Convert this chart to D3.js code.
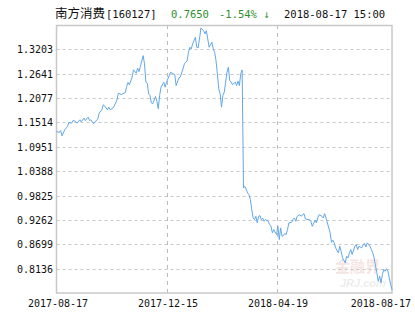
<!DOCTYPE html>
<html>
<head>
<meta charset="utf-8">
<script src="https://cdn.jsdelivr.net/npm/d3@7"></script>
<style>
  body { margin: 0; background: #fff; }
  svg text { font-family: "DejaVu Sans Mono", monospace; font-size: 10px; }
</style>
</head>
<body>
<div id="chart"></div>
<script>
// Trading-day index and unit NAV
const dayIdx = [0, 2, 3, 4, 6, 8, 9, 11, 12, 14, 15, 17, 18, 20, 21, 23, 24, 25, 27, 28,
  30, 31, 33, 34, 35, 37, 38, 39, 41, 42, 44, 45, 47, 48, 50, 51, 52, 53, 55, 56,
  58, 59, 60, 61, 63, 64, 65, 66, 67, 68, 69, 70, 72, 73, 74, 75, 76, 78, 79, 80,
  81, 83, 84, 86, 87, 89, 90, 92, 93, 95, 96, 97, 98, 99, 101, 102, 103, 104, 105, 107,
  108, 109, 110, 111, 113, 114, 115, 116, 117, 118, 119, 120, 121, 122, 123, 124, 125, 126, 127, 128,
  130, 131, 132, 133, 134, 135, 136, 137, 138, 139, 140, 141, 142, 143, 144, 145, 146, 147, 148, 149,
  150, 151, 152, 154, 155, 156, 157, 158, 160, 161, 162, 163, 164, 165, 166, 167, 168, 169, 171, 172,
  173, 174, 175, 177, 178, 179, 180, 181, 183, 184, 185, 186, 188, 189, 190, 191, 193, 194, 195, 196,
  197, 199, 200, 201, 202, 203, 205, 206, 207, 208, 210, 211, 212, 213, 214, 215, 217, 218, 219, 220,
  222, 223, 224, 225, 226, 228, 229, 230, 231, 232, 233, 234, 235, 236, 237, 238, 239, 240, 241, 242,
  243, 244];
const nav = [1.1305, 1.1282, 1.1329, 1.1206, 1.1345, 1.1421, 1.1513, 1.1499, 1.1559, 1.1536, 1.1499, 1.1575, 1.1529, 1.1615, 1.1559, 1.1638, 1.1559, 1.1575, 1.1483, 1.1529,
  1.1591, 1.1730, 1.1806, 1.1921, 1.1898, 1.1806, 1.1868, 1.1806, 1.1845, 1.1898, 1.2037, 1.2191, 1.2159, 1.2175, 1.2205, 1.2343, 1.2436, 1.2383, 1.2560, 1.2729,
  1.2652, 1.2768, 1.2689, 1.2805, 1.3058, 1.2867, 1.2445, 1.2422, 1.2175, 1.2136, 1.1967, 1.1944, 1.2113, 1.2007, 1.1829, 1.2136, 1.2329, 1.2445, 1.2329, 1.2445,
  1.2521, 1.2675, 1.2652, 1.2620, 1.2366, 1.2544, 1.2560, 1.2752, 1.2867, 1.2943, 1.3137, 1.3252, 1.3213, 1.3328, 1.3483, 1.3252, 1.3236, 1.3444, 1.3697, 1.3635,
  1.3559, 1.3635, 1.3444, 1.3252, 1.3367, 1.3213, 1.3137, 1.2943, 1.2636, 1.2290, 1.2175, 1.1868, 1.2136, 1.2214, 1.2445, 1.2675, 1.2791, 1.2482, 1.2445, 1.2389,
  1.2445, 1.2366, 1.2468, 1.2366, 1.2636, 1.2729, 1.0000, 1.0037, 0.9961, 0.9885, 0.9846, 0.9730, 0.9500, 0.9308, 0.9269, 0.9345, 0.9193, 0.9345, 0.9361, 0.9269,
  0.9299, 0.9230, 0.9269, 0.9230, 0.9154, 0.9114, 0.8962, 0.9038, 0.8923, 0.9114, 0.8808, 0.9077, 0.8884, 0.8900, 0.8946, 0.8923, 0.9038, 0.9193, 0.9207, 0.9269,
  0.9308, 0.9230, 0.9345, 0.9384, 0.9345, 0.9384, 0.9407, 0.9285, 0.9269, 0.9269, 0.9230, 0.9114, 0.9253, 0.9193, 0.9308, 0.9384, 0.9345, 0.9308, 0.9407, 0.9308,
  0.9193, 0.8962, 0.8745, 0.8792, 0.8731, 0.8616, 0.8501, 0.8653, 0.8538, 0.8385, 0.8270, 0.8423, 0.8385, 0.8501, 0.8577, 0.8462, 0.8653, 0.8692, 0.8577, 0.8653,
  0.8616, 0.8692, 0.8715, 0.8639, 0.8731, 0.8653, 0.8577, 0.8501, 0.8385, 0.8192, 0.8040, 0.7846, 0.7961, 0.7809, 0.8000, 0.8116, 0.8077, 0.8132, 0.8077, 0.7924,
  0.7770, 0.7650];

const yTicks = [0.8136, 0.8699, 0.9262, 0.9825, 1.0388, 1.0951, 1.1514, 1.2077, 1.2641, 1.3203];
const xTickIdx = [0, 80, 160, 244];
const xTickLabels = ['2017-08-17', '2017-12-15', '2018-04-19', '2018-08-17'];

const width = 415, height = 330;
const plotLeft = 56.5, plotRight = 392, plotTop = 25, plotBottom = 293;

const svg = d3.select('#chart').append('svg')
    .attr('width', width)
    .attr('height', height);

const x = d3.scaleLinear().domain([0, 244]).range([plotLeft, plotRight]);
const y = d3.scaleLinear().domain([0.7573, 1.3766]).range([plotBottom, plotTop]);

// Header
const header = svg.append('g');
header.append('text').attr('x', 55).attr('y', 18)
    .style('font-family', '"Noto Sans CJK SC", sans-serif').style('font-size', '12.5px')
    .attr('fill', '#111').text('南方消费');
header.append('text').attr('x', 106).attr('y', 18).attr('fill', '#111').style('font-size', '10.5px').text('[160127]');
header.append('text').attr('x', 171).attr('y', 18).attr('fill', '#2f8f2f').style('font-size', '10.5px').text('0.7650');
header.append('text').attr('x', 219).attr('y', 18).attr('fill', '#2f8f2f').style('font-size', '10.5px').text('-1.54% ↓');
header.append('text').attr('x', 284).attr('y', 18).attr('fill', '#111').style('font-size', '10.5px').text('2018-08-17 15:00');

// Watermark
const wm = svg.append('g').attr('opacity', 0.13);
wm.append('text').attr('x', 335).attr('y', 272)
    .style('font-family', '"Noto Sans CJK SC", sans-serif').style('font-size', '15px').style('font-weight', 'bold')
    .attr('fill', '#c0392b').text('金融界');
wm.append('text').attr('x', 340).attr('y', 287)
    .style('font-family', 'Arial, sans-serif').style('font-size', '11px').style('font-style', 'italic').style('font-weight', 'bold')
    .attr('fill', '#777').text('JRJ.com');

// Horizontal grid
svg.append('g').selectAll('line')
    .data(yTicks)
    .enter().append('line')
    .attr('x1', plotLeft).attr('x2', plotRight)
    .attr('y1', d => Math.round(y(d)) + 0.5)
    .attr('y2', d => Math.round(y(d)) + 0.5)
    .attr('stroke', '#c8c8c8')
    .attr('stroke-dasharray', '3,3');

// Vertical grid (middle ticks only)
svg.append('g').selectAll('line')
    .data(xTickIdx.slice(1, -1))
    .enter().append('line')
    .attr('x1', d => Math.round(x(d)) + 0.5)
    .attr('x2', d => Math.round(x(d)) + 0.5)
    .attr('y1', plotTop).attr('y2', plotBottom)
    .attr('stroke', '#bbb')
    .attr('stroke-dasharray', '4,4');

// Frame
svg.append('rect')
    .attr('x', plotLeft).attr('y', plotTop + 0.5)
    .attr('width', plotRight - plotLeft).attr('height', plotBottom - plotTop - 0.5)
    .attr('fill', 'none')
    .attr('stroke', '#c8c8c8')
    .attr('stroke-width', 1.5);

// Y labels
svg.append('g').selectAll('text')
    .data(yTicks)
    .enter().append('text')
    .attr('x', 53)
    .attr('y', d => y(d) + 4)
    .attr('text-anchor', 'end')
    .attr('fill', '#111')
    .text(d => d.toFixed(4));

// X labels
svg.append('g').selectAll('text')
    .data(xTickIdx)
    .enter().append('text')
    .attr('x', (d, i) => i === xTickIdx.length - 1 ? 411 : x(d) + 1.5)
    .attr('y', 307)
    .attr('text-anchor', (d, i) => i === xTickIdx.length - 1 ? 'end' : 'middle')
    .attr('fill', '#111')
    .text((d, i) => xTickLabels[i]);

// NAV line
const points = dayIdx.map((d, i) => [d, nav[i]]);
svg.append('path')
    .datum(points)
    .attr('fill', 'none')
    .attr('stroke', '#62a8e8')
    .attr('stroke-width', 1)
    .attr('d', d3.line().x(d => x(d[0])).y(d => y(d[1])));
</script>
</body>
</html>
